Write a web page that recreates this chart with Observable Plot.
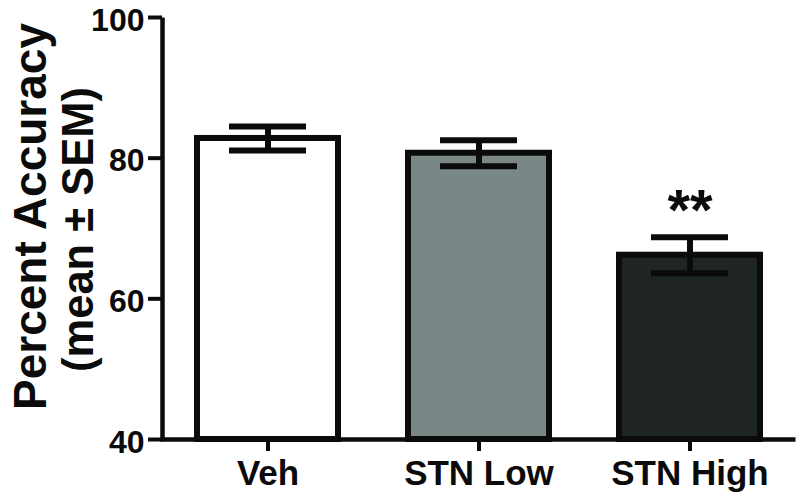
<!DOCTYPE html>
<html>
<head>
<meta charset="utf-8">
<script src="https://cdn.jsdelivr.net/npm/d3@7"></script>
<script src="https://cdn.jsdelivr.net/npm/@observablehq/plot@0.6"></script>
<style>
  html, body { margin: 0; padding: 0; background: #fff; }
  #chart svg { display: block; }
</style>
</head>
<body>
<div id="chart"></div>
<script>
// ---- data ----
const groups = ["Veh", "STN Low", "STN High"];
const means = [82.8, 80.7, 66.2];
const sems = [1.7, 1.85, 2.55];
const significance = ["", "", "**"];
const yTicks = [40, 60, 80, 100];
const yLabelLine1 = "Percent Accuracy";
const yLabelLine2 = "(mean \u00b1 SEM)";

// ---- layout & styles ----
const W = 800, H = 497;
const mTop = 17, mRight = 5, mBottom = 58, mLeft = 162;
const frameW = W - mLeft - mRight, frameH = H - mTop - mBottom;
const barColors = ["#ffffff", "#798886", "#1f2524"];
const ink = "#0b0b0b";
const font = "'Liberation Sans', Arial, Helvetica, sans-serif";

const data = groups.map((g, i) => ({group: g, mean: means[i], sem: sems[i], sig: significance[i]}));

const chart = Plot.plot({
  width: W,
  height: H,
  marginTop: mTop,
  marginBottom: mBottom,
  marginLeft: mLeft,
  marginRight: mRight,
  style: {fontFamily: font, fontWeight: "bold", color: ink, background: "#fff"},
  x: {type: "band", domain: groups, paddingInner: 0.333, paddingOuter: 0.165},
  y: {domain: [40, 100]},
  color: {domain: groups, range: barColors},
  marks: [
    Plot.barY(data, {x: "group", y1: 40, y2: "mean", fill: "group", stroke: ink, strokeWidth: 6}),
    Plot.ruleX(data, {x: "group", y1: d => d.mean - d.sem, y2: d => d.mean + d.sem, stroke: ink, strokeWidth: 6}),
    Plot.tickY(data, {x: "group", y: d => d.mean + d.sem, stroke: ink, strokeWidth: 6, inset: 32}),
    Plot.tickY(data, {x: "group", y: d => d.mean - d.sem, stroke: ink, strokeWidth: 6, inset: 32}),
    Plot.text(data, {x: "group", y: d => d.mean + d.sem, text: "sig", dy: -26, fontSize: 58, fontWeight: "bold", fill: ink}),
    // left + bottom axis lines (frame drawn only on its bottom and left sides)
    Plot.frame({stroke: ink, strokeWidth: 4.5, strokeDasharray: `0 ${frameW + frameH} ${frameW + frameH}`}),
    Plot.axisY({ticks: yTicks, text: null, tickSize: 14, stroke: ink, strokeWidth: 4, label: null}),
    Plot.axisY({ticks: yTicks, tickSize: 0, tickPadding: 18, fontSize: 32, fontWeight: "bold", dy: 3,
      fill: ink, label: null}),
    Plot.axisX({tickSize: 12, tickPadding: 9, fontSize: 35, fontWeight: "bold",
      stroke: ink, strokeWidth: 4, label: null}),
    Plot.text([yLabelLine1], {frameAnchor: "left", text: d => d, rotate: -90, textAnchor: "middle",
      dx: -131, dy: -12, fontSize: 46, fontWeight: "bold", fill: ink}),
    Plot.text([yLabelLine2], {frameAnchor: "left", text: d => d, rotate: -90, textAnchor: "middle",
      dx: -83, dy: 1, fontSize: 43.5, fontWeight: "bold", fill: ink})
  ]
});
document.getElementById("chart").appendChild(chart);
</script>
</body>
</html>
